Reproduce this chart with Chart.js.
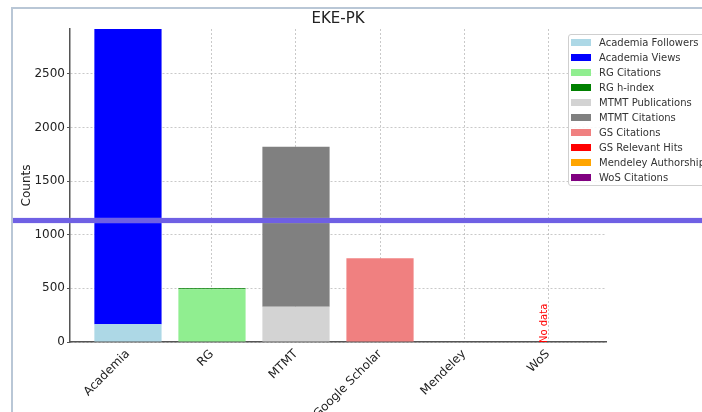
<!DOCTYPE html>
<html>
<head>
<meta charset="utf-8">
<script src="https://cdn.jsdelivr.net/npm/chart.js@4"></script>
<style>
  html, body { margin: 0; padding: 0; background: #fff; overflow: hidden; }
  #wrap { position: relative; width: 702px; height: 412px; overflow: hidden; }
  #frame {
    position: absolute; left: 11px; top: 7px; right: -4px; bottom: -4px;
    border-left: 2px solid #b9c7d6; border-top: 2px solid #b9c7d6;
    pointer-events: none;
  }
  #marker {
    position: absolute; left: 13px; right: 0; top: 218px; height: 5px;
    background: #6f60e4; box-shadow: 0 0 1px #a79ff0; pointer-events: none;
  }
  #legend {
    position: absolute; left: 568px; top: 34px; width: 150px;
    border: 1px solid #cfcfcf; border-radius: 3px; background: rgba(255,255,255,0.85);
    font: 10px 'DejaVu Sans', sans-serif; color: #333;
  }
  #legend ul { list-style: none; margin: 0; padding: 0; }
  #legend li { height: 15px; display: flex; align-items: center; white-space: nowrap; }
  #legend .sw { width: 20px; height: 7px; margin: 0 8px 0 2px; flex: none; }
</style>
</head>
<body>
<div id="wrap">
  <canvas id="chart"></canvas>
  <div id="frame"></div>
  <div id="marker"></div>
  <div id="legend"><ul></ul></div>
</div>
<script>
// categories on the x axis
const CATEGORIES = ['Academia', 'RG', 'MTMT', 'Google Scholar', 'Mendeley', 'WoS'];

// stacked series, one value per category (null = not part of that bar)
const academiaFollowers = [165, null, null, null, null, null];
const academiaViews     = [2752, null, null, null, null, null];
const rgCitations       = [null, 492, null, null, null, null];
const rgHIndex          = [null, 9, null, null, null, null];
const mtmtPublications  = [null, null, 329, null, null, null];
const mtmtCitations     = [null, null, 1490, null, null, null];
const gsCitations       = [null, null, null, 781, null, null];
const gsRelevantHits    = [null, null, null, 0, null, null];
const mendeleyAuthors   = [null, null, null, null, 0, null];
const wosCitations      = [null, null, null, null, null, null];

const Y_TICKS = [0, 500, 1000, 1500, 2000, 2500];
const NO_DATA = ['WoS'];

const SERIES = [
  { label: 'Academia Followers', values: academiaFollowers, color: '#add8e6' },
  { label: 'Academia Views', values: academiaViews, color: '#0000ff' },
  { label: 'RG Citations', values: rgCitations, color: '#90ee90' },
  { label: 'RG h-index', values: rgHIndex, color: '#008000' },
  { label: 'MTMT Publications', values: mtmtPublications, color: '#d3d3d3' },
  { label: 'MTMT Citations', values: mtmtCitations, color: '#808080' },
  { label: 'GS Citations', values: gsCitations, color: '#f08080' },
  { label: 'GS Relevant Hits', values: gsRelevantHits, color: '#ff0000' },
  { label: 'Mendeley Authorship', values: mendeleyAuthors, color: '#ffa500' },
  { label: 'WoS Citations', values: wosCitations, color: '#800080' },
];

// axis top sits on the tallest stack
const totals = CATEGORIES.map((_, i) => SERIES.reduce((s, d) => s + (d.values[i] || 0), 0));
const yMax = Math.max(...totals);

Chart.defaults.font.family = "'DejaVu Sans', sans-serif";
Chart.defaults.font.size = 12;
Chart.defaults.color = '#333';

// dotted grid (v4 keeps the grid dash under border.dash)
const gridStyle = { color: 'rgba(165,165,165,0.6)', lineWidth: 1 };
const axisBorder = { display: true, color: '#555', width: 1.5, dash: [2, 2] };

// HTML legend filled from the chart's datasets
const htmlLegend = {
  id: 'htmlLegend',
  afterUpdate(chart) {
    const ul = document.querySelector('#legend ul');
    ul.innerHTML = '';
    chart.data.datasets.forEach(ds => {
      const li = document.createElement('li');
      const sw = document.createElement('span');
      sw.className = 'sw';
      sw.style.background = ds.backgroundColor;
      li.appendChild(sw);
      li.appendChild(document.createTextNode(ds.label));
      ul.appendChild(li);
    });
  },
};

// red "No data" note standing on the axis
const noDataNote = {
  id: 'noDataNote',
  afterDatasetsDraw(chart) {
    const { ctx, scales: { x, y } } = chart;
    NO_DATA.forEach(name => {
      const px = x.getPixelForValue(CATEGORIES.indexOf(name));
      const py = y.getPixelForValue(0);
      ctx.save();
      ctx.translate(px - 4, py + 1);
      ctx.rotate(-Math.PI / 2);
      ctx.fillStyle = '#ff0000';
      ctx.font = "10px 'DejaVu Sans', sans-serif";
      ctx.textAlign = 'left';
      ctx.textBaseline = 'middle';
      ctx.fillText('No data', 0, 0);
      ctx.restore();
    });
  },
};

new Chart(document.getElementById('chart'), {
  type: 'bar',
  data: {
    datasets: SERIES.map(s => ({
      label: s.label,
      data: s.values.map((v, i) => ({ x: i, y: v })),
      backgroundColor: s.color,
      borderWidth: 0,
      barPercentage: 0.8,
      categoryPercentage: 1,
    })),
  },
  options: {
    responsive: true,
    maintainAspectRatio: false,
    animation: false,
    layout: { padding: { left: 0, right: 96, top: 0, bottom: 0 } },
    plugins: {
      legend: { display: false },
      tooltip: { enabled: false },
      title: {
        display: true,
        text: 'EKE-PK',
        fullSize: false,
        color: '#222',
        font: { size: 15, weight: 'normal' },
        padding: { top: 10, bottom: 1 },
      },
    },
    scales: {
      x: {
        type: 'linear',
        stacked: true,
        offset: false,
        min: -0.69,
        max: CATEGORIES.length - 1 + 0.69,
        z: 1,
        afterBuildTicks: (scale) => {
          scale.ticks = CATEGORIES.map((_, i) => ({ value: i }));
        },
        afterFit: (scale) => { scale.height = 70; },
        ticks: {
          autoSkip: false,
          minRotation: 45,
          maxRotation: 45,
          padding: 5,
          color: '#222',
          callback: (v) => CATEGORIES[v],
        },
        grid: { ...gridStyle, offset: false, drawTicks: false },
        border: axisBorder,
      },
      y: {
        stacked: true,
        min: 0,
        max: yMax,
        z: 1,
        afterBuildTicks: (scale) => {
          scale.ticks = Y_TICKS.map(v => ({ value: v }));
        },
        afterFit: (scale) => { scale.width = 70; },
        ticks: { padding: 2, color: '#222', callback: (v) => String(v) },
        grid: { ...gridStyle, tickLength: 3, tickColor: '#555', tickBorderDash: [] },
        border: axisBorder,
        title: {
          display: true,
          text: 'Counts',
          color: '#222',
          font: { size: 12 },
          padding: { top: 20, bottom: 0 },
        },
      },
    },
  },
  plugins: [htmlLegend, noDataNote],
});
</script>
</body>
</html>
